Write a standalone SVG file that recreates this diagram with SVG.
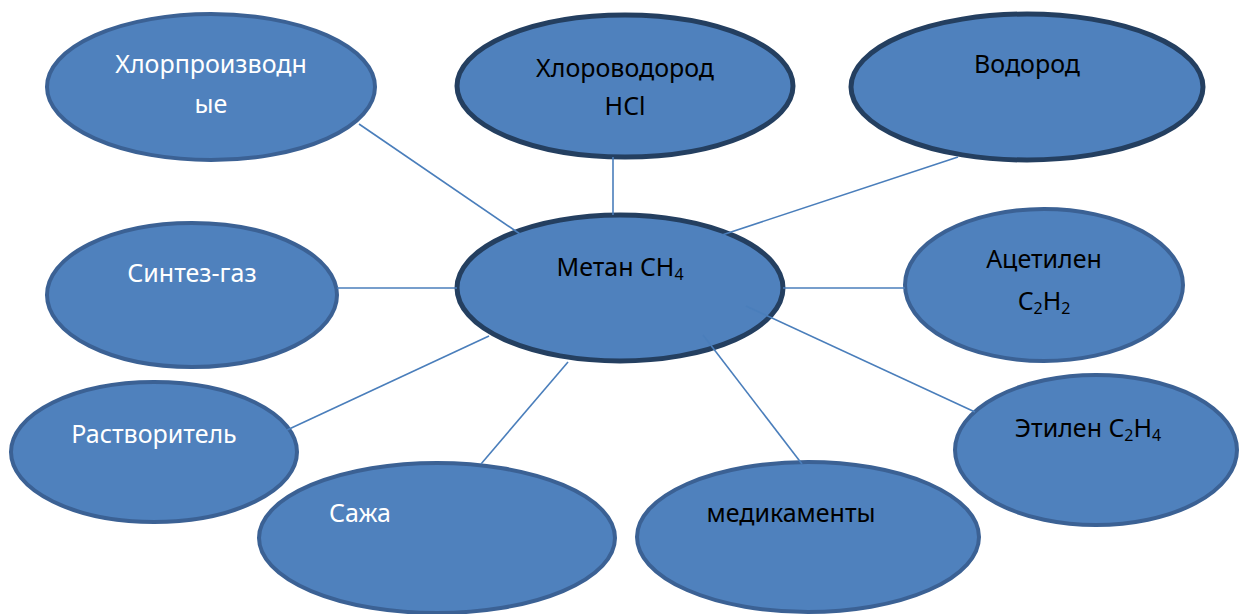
<svg xmlns="http://www.w3.org/2000/svg" width="1239" height="614" viewBox="0 0 1239 614">
<style>
.n{fill:#4F81BD;stroke:#3B6194;stroke-width:4}
.d{stroke:#243F60;stroke-width:5}
.t{font-family:"Noto Sans","Open Sans","DejaVu Sans",sans-serif;font-size:25px;text-anchor:middle;fill:#000}
.w{fill:#fff}
.s{font-size:16px}
.c line{stroke:#4A7EBB;stroke-width:1.6}
</style>
<rect width="1239" height="614" fill="#fff"/>
<g id="n-chlorder"><ellipse class="n" cx="211" cy="87" rx="164" ry="73"/><text class="t w" x="211" y="73">Хлорпроизводн</text><text class="t w" x="211" y="113">ые</text></g>
<g id="n-hcl"><ellipse class="n d" cx="625" cy="86" rx="168" ry="71"/><text class="t" x="625" y="77">Хлороводород</text><text class="t" x="625" y="115">HCl</text></g>
<g id="n-h2"><ellipse class="n d" cx="1027" cy="87" rx="176" ry="73"/><text class="t" x="1027" y="73">Водород</text></g>
<g id="n-synth"><ellipse class="n" cx="192" cy="295" rx="145" ry="72"/><text class="t w" x="192" y="282">Синтез-газ</text></g>
<g id="n-methane"><ellipse class="n d" cx="620" cy="288" rx="163" ry="73"/><text class="t" x="620" y="276">Метан CH<tspan class="s" dy="4">4</tspan></text></g>
<g id="n-acet"><ellipse class="n" cx="1044" cy="285" rx="139" ry="76"/><text class="t" x="1044" y="268">Ацетилен</text><text class="t" x="1044" y="310">C<tspan class="s" dy="4">2</tspan><tspan dy="-4">H</tspan><tspan class="s" dy="4">2</tspan></text></g>
<g id="n-solv"><ellipse class="n" cx="154" cy="452" rx="143" ry="70"/><text class="t w" x="154" y="443">Растворитель</text></g>
<g id="n-soot"><ellipse class="n" cx="437" cy="538" rx="178" ry="75"/><text class="t w" x="360" y="522">Сажа</text></g>
<g id="n-med"><ellipse class="n" cx="808" cy="537" rx="171" ry="75"/><text class="t" x="791" y="522">медикаменты</text></g>
<g id="n-eth"><ellipse class="n" cx="1096" cy="450" rx="141" ry="75"/><text class="t" x="1088" y="437">Этилен C<tspan class="s" dy="4">2</tspan><tspan dy="-4">H</tspan><tspan class="s" dy="4">4</tspan></text></g>
<g id="connectors" class="c">
<line x1="359" y1="124" x2="520" y2="234"/>
<line x1="613" y1="157" x2="613" y2="215"/>
<line x1="958" y1="157" x2="722" y2="235"/>
<line x1="337" y1="288" x2="457" y2="288"/>
<line x1="783" y1="288" x2="905" y2="288"/>
<line x1="746" y1="306" x2="975" y2="412"/>
<line x1="703" y1="335" x2="802" y2="464"/>
<line x1="568" y1="362" x2="481" y2="464"/>
<line x1="489" y1="336" x2="287" y2="430"/>
</g>
</svg>
